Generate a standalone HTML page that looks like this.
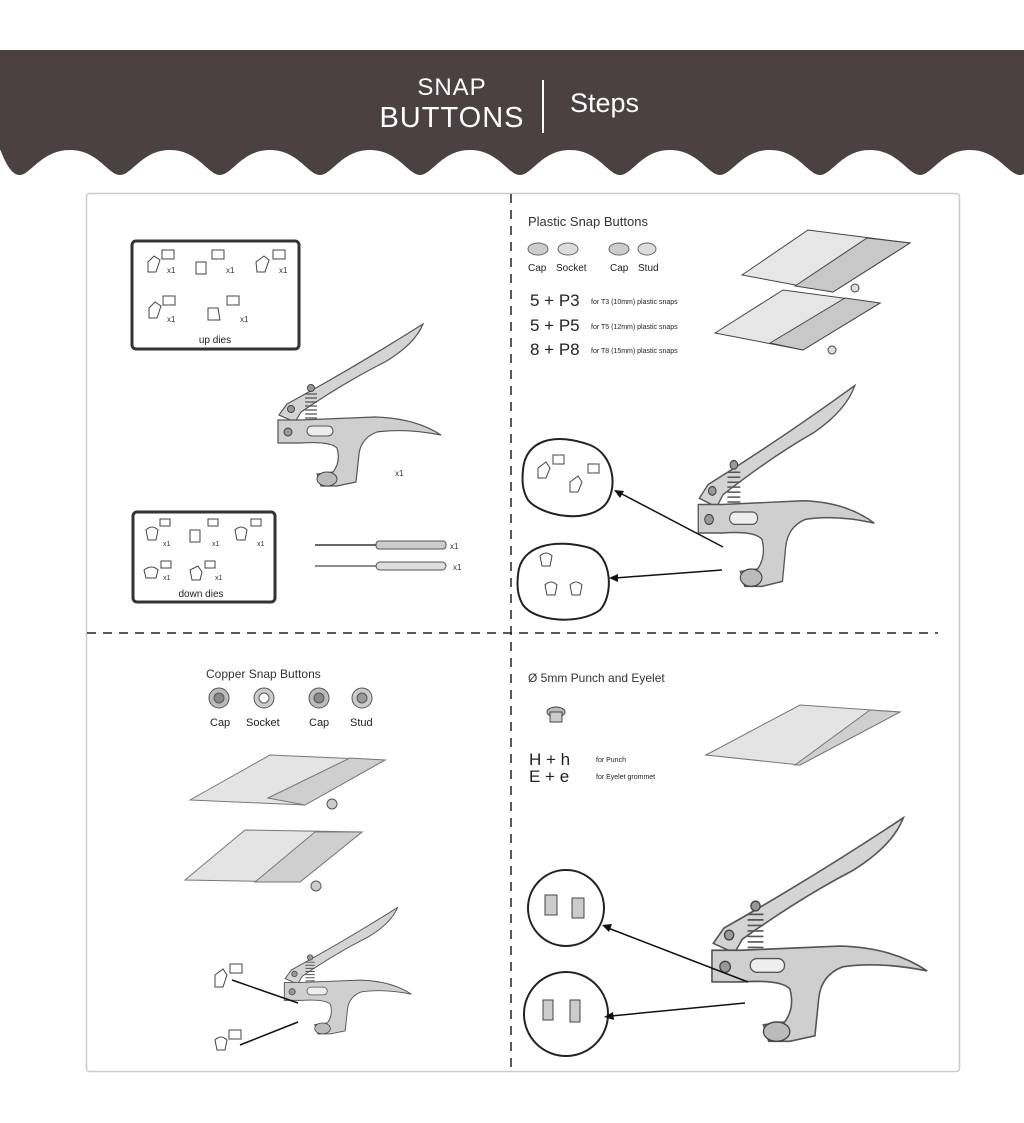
<!DOCTYPE html>
<html><head><meta charset="utf-8"><style>
html,body{margin:0;padding:0;background:#fff;}
svg{display:block;}
text{font-family:"Liberation Sans",sans-serif;}
</style></head><body>
<svg width="1024" height="1123" viewBox="0 0 1024 1123" xmlns="http://www.w3.org/2000/svg">
<defs>
<g id="plier">
 <path d="M4,93 L12,82 Q80,45 148,2 Q140,22 110,40 Q70,60 26,90 L20,100 Z" fill="#d4d4d4" stroke="#555" stroke-width="1.2"/>
 <g stroke="#555" fill="none" stroke-width="1.2">
  <path d="M30,72 h12 M30,76 h12 M30,80 h12 M30,84 h12 M30,88 h12 M30,92 h12 M30,96 h12"/>
 </g>
 <path d="M3,98 L25,98 L100,95 Q140,96 166,113 Q130,106 102,110 Q86,116 84,132 L81,160 L62,164 L46,164 L42,152 L58,150 Q66,140 62,126 Q55,119 25,121 L3,121 Z" fill="#cfcfcf" stroke="#555" stroke-width="1.2"/>
 <rect x="32" y="104" width="26" height="10" rx="5" fill="#eee" stroke="#555"/>
 <circle cx="13" cy="110" r="4" fill="#999" stroke="#444"/>
 <circle cx="16" cy="87" r="3.5" fill="#999" stroke="#444"/>
 <circle cx="36" cy="66" r="3.5" fill="#999" stroke="#444"/>
 <ellipse cx="52" cy="157" rx="10" ry="7" fill="#bbb" stroke="#444"/>
</g>
</defs>

<!-- header -->
<rect x="0" y="50" width="1024" height="100" fill="#4b4042"/>
<path fill="#4b4042" d="M0,149
 C8,170 14,175 20,175 C30,175 42,150 70,150 C98,150 108,175 120,175 C132,175 142,150 170,150 C198,150 208,175 220,175 C232,175 242,150 270,150 C298,150 308,175 320,175 C332,175 342,150 370,150 C398,150 408,175 420,175 C432,175 442,150 470,150 C498,150 508,175 520,175 C532,175 542,150 570,150 C598,150 608,175 620,175 C632,175 642,150 670,150 C698,150 708,175 720,175 C732,175 742,150 770,150 C798,150 808,175 820,175 C832,175 842,150 870,150 C898,150 908,175 920,175 C932,175 942,150 970,150 C998,150 1008,175 1020,175 C1022,175 1024,174 1024,174 L1024,149 Z"/>
<text x="452" y="95" fill="#fff" font-size="24" text-anchor="middle" letter-spacing="1">SNAP</text>
<text x="452" y="127" fill="#fff" font-size="29" text-anchor="middle" letter-spacing="1">BUTTONS</text>
<line x1="543" y1="80" x2="543" y2="133" stroke="#fff" stroke-width="2"/>
<text x="570" y="112" fill="#fff" font-size="27">Steps</text>

<!-- panel -->
<rect x="86.5" y="193.5" width="873" height="878" rx="3" fill="none" stroke="#c8cccc" stroke-width="1.5"/>
<line x1="511" y1="194" x2="511" y2="1071" stroke="#222" stroke-width="1.5" stroke-dasharray="9,7"/>
<line x1="87" y1="633" x2="938" y2="633" stroke="#222" stroke-width="1.5" stroke-dasharray="9,7"/>

<!-- Q1 -->
<rect x="132" y="241" width="167" height="108" rx="4" fill="none" stroke="#333" stroke-width="3"/>
<g font-size="8" fill="#333">
 <text x="167" y="273">x1</text><text x="226" y="273">x1</text><text x="279" y="273">x1</text>
 <text x="167" y="322">x1</text><text x="240" y="322">x1</text>
</g>
<g fill="none" stroke="#444">
 <rect x="162" y="250" width="12" height="9"/><rect x="212" y="250" width="12" height="9"/><rect x="273" y="250" width="12" height="9"/>
 <rect x="163" y="296" width="12" height="9"/><rect x="227" y="296" width="12" height="9"/>
 <path d="M148,262 l6,-6 l6,4 l-4,12 l-8,0 z M196,262 l10,0 l0,12 l-10,0 z M256,262 l8,-6 l5,4 l-4,12 l-8,0 z M149,308 l6,-6 l6,4 l-4,12 l-8,0 z M208,308 l10,0 l2,12 l-12,0 z"/>
</g>
<text x="215" y="343" font-size="10" fill="#222" text-anchor="middle">up dies</text>

<use href="#plier" transform="translate(275,322)"/>
<text x="395" y="476" font-size="8" fill="#333">x1</text>

<rect x="133" y="512" width="142" height="90" rx="4" fill="none" stroke="#333" stroke-width="3"/>
<g font-size="7" fill="#333">
 <text x="163" y="546">x1</text><text x="212" y="546">x1</text><text x="257" y="546">x1</text>
 <text x="163" y="580">x1</text><text x="215" y="580">x1</text>
</g>
<g fill="none" stroke="#444">
 <rect x="160" y="519" width="10" height="7"/><rect x="208" y="519" width="10" height="7"/><rect x="251" y="519" width="10" height="7"/>
 <rect x="161" y="561" width="10" height="7"/><rect x="205" y="561" width="10" height="7"/>
 <path d="M146,530 q6,-6 12,0 l-2,10 l-8,0 z M190,530 l10,0 l0,12 l-10,0 z M235,530 q6,-6 12,0 l-2,10 l-8,0 z M144,570 q8,-6 14,0 l-2,8 l-10,0 z M190,570 l8,-4 l4,6 l-2,8 l-8,0 z"/>
</g>
<text x="201" y="597" font-size="10" fill="#222" text-anchor="middle">down dies</text>

<line x1="315" y1="545" x2="376" y2="545" stroke="#666" stroke-width="2"/>
<rect x="376" y="541" width="70" height="8" rx="3" fill="#ccc" stroke="#555"/>
<text x="450" y="549" font-size="8" fill="#333">x1</text>
<line x1="315" y1="566" x2="376" y2="566" stroke="#666" stroke-width="1.5"/>
<rect x="376" y="562" width="70" height="8" rx="4" fill="#ddd" stroke="#555"/>
<text x="453" y="570" font-size="8" fill="#333">x1</text>

<!-- Q2 -->
<text x="528" y="226" font-size="13" fill="#333">Plastic Snap Buttons</text>
<g stroke="#666" fill="#ccc">
 <ellipse cx="538" cy="249" rx="10" ry="6"/><ellipse cx="568" cy="249" rx="10" ry="6" fill="#ddd"/>
 <ellipse cx="619" cy="249" rx="10" ry="6"/><ellipse cx="647" cy="249" rx="9" ry="6" fill="#ddd"/>
</g>
<g font-size="10" fill="#222">
 <text x="528" y="271">Cap</text><text x="556" y="271">Socket</text><text x="610" y="271">Cap</text><text x="638" y="271">Stud</text>
</g>
<g fill="#222">
 <text x="530" y="306" font-size="17">5 + P3</text><text x="591" y="304" font-size="7">for  T3 (10mm) plastic snaps</text>
 <text x="530" y="331" font-size="17">5 + P5</text><text x="591" y="329" font-size="7">for  T5 (12mm) plastic snaps</text>
 <text x="530" y="355" font-size="17">8 + P8</text><text x="591" y="353" font-size="7">for  T8 (15mm) plastic snaps</text>
</g>
<polygon points="742,275 808,230 910,243 833,292" fill="#e6e6e6" stroke="#444"/>
<polygon points="795,286 867,238 910,243 833,292" fill="#c8c8c8" stroke="#444"/>
<circle cx="855" cy="288" r="4" fill="#ddd" stroke="#444"/>
<polygon points="715,333 783,290 880,303 803,350" fill="#e6e6e6" stroke="#444"/>
<polygon points="770,343 845,298 880,303 803,350" fill="#c8c8c8" stroke="#444"/>
<circle cx="832" cy="350" r="4" fill="#ddd" stroke="#444"/>

<use href="#plier" transform="translate(695,383) scale(1.08,1.24)"/>
<path d="M523,470 C525,440 555,432 590,445 C615,455 618,490 605,505 C585,525 540,515 528,500 C522,490 522,480 523,470 Z" fill="#fff" stroke="#222" stroke-width="2"/>
<path d="M518,575 C520,545 555,538 590,548 C612,556 614,595 600,610 C580,625 535,622 523,605 C517,595 517,585 518,575 Z" fill="#fff" stroke="#222" stroke-width="2"/>
<g fill="none" stroke="#444">
 <rect x="553" y="455" width="11" height="9"/><rect x="588" y="464" width="11" height="9"/>
 <path d="M538,468 l8,-6 l4,6 l-4,10 l-8,0 z M570,482 l8,-6 l4,6 l-4,10 l-8,0 z"/>
 <path d="M540,556 q6,-6 12,0 l-2,10 l-8,0 z M545,585 q6,-6 12,0 l-2,10 l-8,0 z M570,585 q6,-6 12,0 l-2,10 l-8,0 z"/>
</g>
<line x1="723" y1="547" x2="620" y2="493" stroke="#111" stroke-width="1.5"/>
<polygon points="614,490 624,491 620,498" fill="#111"/>
<line x1="722" y1="570" x2="615" y2="578" stroke="#111" stroke-width="1.5"/>
<polygon points="609,578 618,574 618,582" fill="#111"/>

<!-- Q3 -->
<text x="206" y="678" font-size="12" fill="#333">Copper Snap Buttons</text>
<g stroke="#555">
 <circle cx="219" cy="698" r="10" fill="#bbb"/><circle cx="219" cy="698" r="5" fill="#888"/>
 <circle cx="264" cy="698" r="10" fill="#ccc"/><circle cx="264" cy="698" r="5" fill="#fff"/>
 <circle cx="319" cy="698" r="10" fill="#bbb"/><circle cx="319" cy="698" r="5" fill="#888"/>
 <circle cx="362" cy="698" r="10" fill="#ccc"/><circle cx="362" cy="698" r="5" fill="#999"/>
</g>
<g font-size="11" fill="#222">
 <text x="210" y="726">Cap</text><text x="246" y="726">Socket</text><text x="309" y="726">Cap</text><text x="350" y="726">Stud</text>
</g>
<g>
 <polygon points="190,800 270,755 385,760 305,805" fill="#e4e4e4" stroke="#777"/>
 <polygon points="268,798 350,758 385,760 305,805" fill="#cfcfcf" stroke="#777"/>
 <polygon points="185,880 245,830 362,832 300,882" fill="#e4e4e4" stroke="#777"/>
 <polygon points="255,882 315,832 362,832 300,882" fill="#cfcfcf" stroke="#777"/>
 <circle cx="332" cy="804" r="5" fill="#ccc" stroke="#555"/>
 <circle cx="316" cy="886" r="5" fill="#ccc" stroke="#555"/>
</g>
<use href="#plier" transform="translate(282,906) scale(0.78,0.78)"/>
<rect x="230" y="964" width="12" height="9" fill="none" stroke="#444"/>
<path d="M215,975 l8,-6 l4,6 l-4,12 l-8,0 z" fill="none" stroke="#444"/>
<rect x="229" y="1030" width="12" height="9" fill="none" stroke="#444"/>
<path d="M215,1040 q6,-6 12,0 l-2,10 l-8,0 z" fill="none" stroke="#444"/>
<line x1="232" y1="980" x2="298" y2="1003" stroke="#111" stroke-width="1.5"/>
<line x1="240" y1="1045" x2="298" y2="1022" stroke="#111" stroke-width="1.5"/>

<!-- Q4 -->
<text x="528" y="682" font-size="12" fill="#333">Ø 5mm Punch and Eyelet</text>
<ellipse cx="556" cy="712" rx="9" ry="5" fill="#bbb" stroke="#444"/>
<rect x="550" y="712" width="12" height="10" fill="#ccc" stroke="#444"/>
<text x="529" y="765" font-size="17" fill="#222">H + h</text><text x="596" y="762" font-size="7" fill="#222">for  Punch</text>
<text x="529" y="782" font-size="17" fill="#222">E + e</text><text x="596" y="779" font-size="7" fill="#222">for  Eyelet grommet</text>
<polygon points="706,755 800,705 900,712 800,765" fill="#e4e4e4" stroke="#777"/>
<polygon points="795,765 870,710 900,712 800,765" fill="#cfcfcf" stroke="#777"/>
<use href="#plier" transform="translate(708,815) scale(1.32,1.38)"/>
<circle cx="566" cy="908" r="38" fill="#fff" stroke="#222" stroke-width="2"/>
<circle cx="566" cy="1014" r="42" fill="#fff" stroke="#222" stroke-width="2"/>
<g fill="#ccc" stroke="#444">
 <rect x="545" y="895" width="12" height="20"/><rect x="572" y="898" width="12" height="20"/>
 <rect x="543" y="1000" width="10" height="20"/><rect x="570" y="1000" width="10" height="22"/>
</g>
<line x1="748" y1="982" x2="608" y2="928" stroke="#111" stroke-width="1.5"/>
<polygon points="602,925 612,924 609,932" fill="#111"/>
<line x1="745" y1="1003" x2="611" y2="1016" stroke="#111" stroke-width="1.5"/>
<polygon points="604,1017 613,1012 614,1020" fill="#111"/>
</svg>
</body></html>
